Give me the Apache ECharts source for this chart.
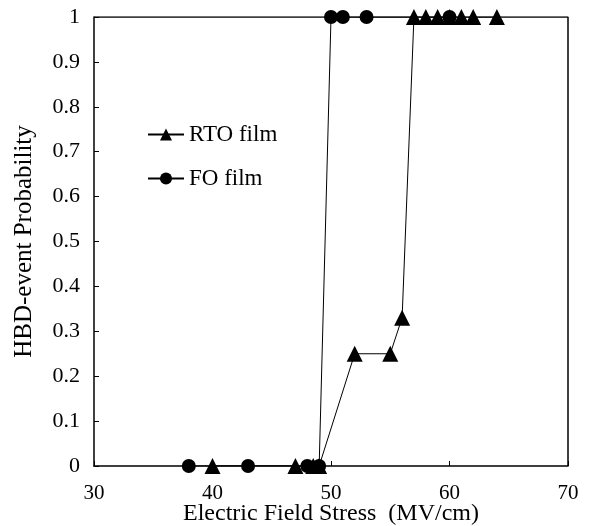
<!DOCTYPE html>
<html>
<head>
<meta charset="utf-8">
<script src="https://cdn.jsdelivr.net/npm/echarts@6/dist/echarts.min.js"></script>
<style>
  html, body { margin: 0; padding: 0; background: #fff; }
  #chart { width: 590px; height: 526px; }
</style>
</head>
<body>
<div id="chart"></div>
<script>
// RTO film points
const rtoX = [40, 47, 48.5, 49, 52, 55, 56, 57, 58, 59, 60, 61, 62, 64];
const rtoY = [0, 0, 0, 0, 0.25, 0.25, 0.33, 1, 1, 1, 1, 1, 1, 1];
// FO film points
const foX = [38, 43, 48, 49, 50, 51, 53, 60];
const foY = [0, 0, 0, 0, 1, 1, 1, 1];

const font = "Liberation Serif";

let chartDom = document.getElementById("chart");
let myChart = echarts.init(chartDom);
let option;

option = {
  animation: false,
  textStyle: { fontFamily: font, color: "#000" },
  grid: { left: 94, right: 22, top: 17, bottom: 60, outerBoundsMode: "none" },
  legend: {
    orient: "vertical",
    left: 142,
    top: 118,
    itemGap: 21,
    itemWidth: 36,
    itemHeight: 15,
    textStyle: { fontFamily: font, fontSize: 23, color: "#000" },
    data: ["RTO film", "FO film"]
  },
  xAxis: {
    type: "value",
    min: 30,
    max: 70,
    interval: 10,
    name: "Electric Field Stress  (MV/cm)",
    nameLocation: "middle",
    nameGap: 36,
    nameMoveOverlap: false,
    nameTextStyle: { fontFamily: font, fontSize: 24, color: "#000" },
    axisLine: { lineStyle: { color: "#000", width: 1.5 } },
    axisTick: { inside: true, length: 5, lineStyle: { color: "#000" } },
    axisLabel: { fontFamily: font, fontSize: 21, color: "#000", margin: 17 },
    splitLine: { show: false }
  },
  yAxis: {
    type: "value",
    min: 0,
    max: 1,
    interval: 0.1,
    name: "HBD-event Probability",
    nameLocation: "middle",
    nameGap: 57,
    nameMoveOverlap: false,
    nameTextStyle: { fontFamily: font, fontSize: 25, color: "#000" },
    axisLine: { lineStyle: { color: "#000", width: 1.5 } },
    axisTick: { inside: true, length: 5, lineStyle: { color: "#000" } },
    axisLabel: { fontFamily: font, fontSize: 22, color: "#000", margin: 14 },
    splitLine: { show: false }
  },
  series: [
    {
      name: "RTO film",
      type: "line",
      data: rtoX.map((x, i) => [x, rtoY[i]]),
      symbol: "triangle",
      symbolSize: 16,
      itemStyle: { color: "#000" },
      lineStyle: { color: "#000", width: 1 },
      z: 3
    },
    {
      name: "FO film",
      type: "line",
      data: foX.map((x, i) => [x, foY[i]]),
      symbol: "circle",
      symbolSize: 14,
      itemStyle: { color: "#000" },
      lineStyle: { color: "#000", width: 1 },
      z: 4
    },
    {
      // box border on top and right
      type: "line",
      data: [[30, 1], [70, 1], [70, 0]],
      symbol: "none",
      silent: true,
      lineStyle: { color: "#000", width: 1.5 },
      z: 1
    }
  ]
};

option && myChart.setOption(option);
</script>
</body>
</html>
